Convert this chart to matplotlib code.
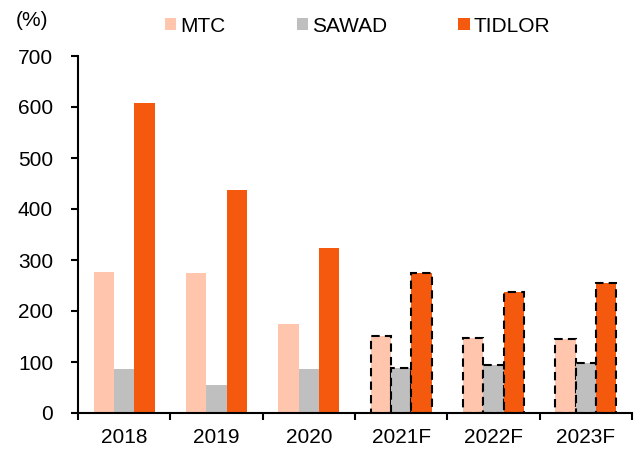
import matplotlib.pyplot as plt
from matplotlib.patches import Patch
import numpy as np

plt.rcParams['font.family'] = ['Liberation Sans', 'DejaVu Sans']

# Dados
years = ['2018', '2019', '2020', '2021F', '2022F', '2023F']
mtc = [276, 274, 175, 151, 148, 146]
sawad = [87, 55, 87, 89, 95, 98]
tidlor = [607, 437, 323, 274, 237, 255]
forecast = [False, False, False, True, True, True]

names = ['MTC', 'SAWAD', 'TIDLOR']
colors = ['#FFC6AD', '#BFBFBF', '#F4590D']

fig = plt.figure(figsize=(6.41, 4.5), dpi=100)
ax = fig.add_axes([78/641, 1 - 413/450, (632-78)/641, (413-56)/450])

x = np.arange(len(years))
w = 0.22
for k, (vals, c) in enumerate(zip([mtc, sawad, tidlor], colors)):
    pos = x + (k - 1) * w
    for i in range(len(years)):
        if forecast[i]:
            ax.bar(pos[i], vals[i], w, color=c, edgecolor='black',
                   linewidth=1.5, linestyle=(0, (4, 2.5)), zorder=2)
        else:
            ax.bar(pos[i], vals[i], w, color=c, linewidth=0, zorder=2)

ax.set_xlim(-0.5, len(years) - 0.5)
ax.set_ylim(0, 700)
ax.set_yticks(range(0, 701, 100))
ax.set_xticks(x)
ax.set_xticklabels(years)
ax.set_xticks(np.arange(-0.5, len(years)), minor=True)
ax.tick_params(axis='x', which='major', length=0, pad=11, labelsize=15)
ax.tick_params(axis='x', which='minor', length=5, width=1.5, direction='out')
ax.tick_params(axis='y', length=5, width=1.5, direction='out', labelsize=15, pad=13)
for s in ['top', 'right']:
    ax.spines[s].set_visible(False)
for s in ['left', 'bottom']:
    ax.spines[s].set_linewidth(1.5)

fig.text(16/641, 1 - 21/450, '(%)', fontsize=15, va='center', ha='left')

handles = [Patch(facecolor=c, edgecolor='none', label=n) for n, c in zip(names, colors)]
fig.legend(handles=handles, loc='center left', bbox_to_anchor=(165/641, 1 - 26/450),
           ncol=3, frameon=False, fontsize=15, handlelength=0.55, handleheight=0.55,
           handletextpad=0.2, columnspacing=3.4, borderaxespad=0, borderpad=0)

fig.savefig('out.png', dpi=100)
